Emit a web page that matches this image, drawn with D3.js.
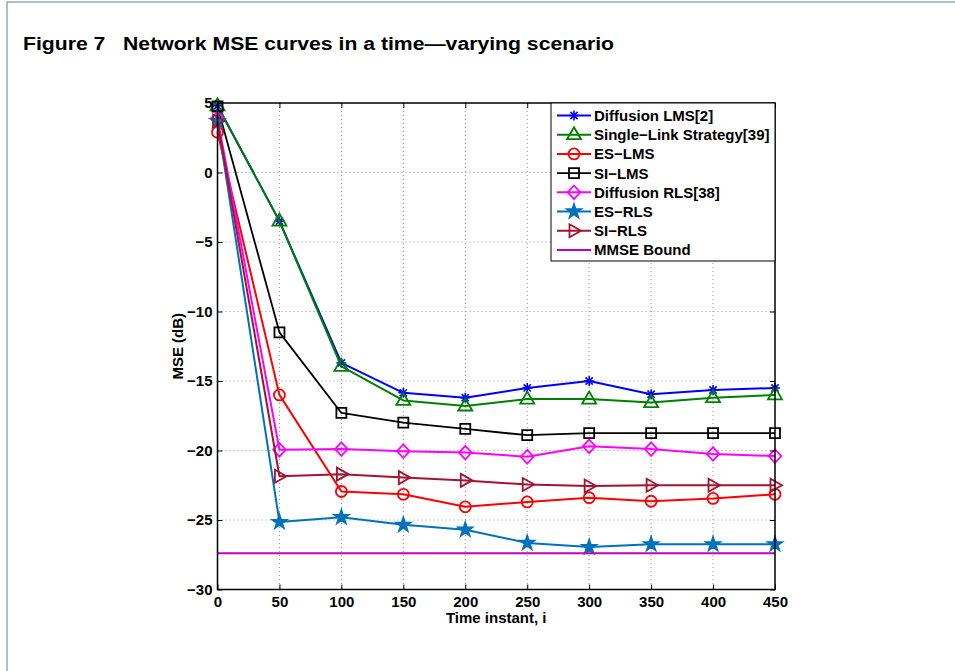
<!DOCTYPE html>
<html>
<head>
<meta charset="utf-8">
<script src="https://cdn.jsdelivr.net/npm/d3@7"></script>
<style>
  html, body { margin: 0; padding: 0; background: #fff; }
  svg { display: block; }
  text { font-family: "Liberation Sans", Arial, Helvetica, sans-serif; font-weight: bold; white-space: pre; }
</style>
</head>
<body>
<svg id="chart" width="955" height="671"></svg>
<script>
// Time instants at which the network MSE was evaluated
const timeInstants = [0, 50, 100, 150, 200, 250, 300, 350, 400, 450];

// Network MSE (dB) for each algorithm
const diffusionLMS  = [4.8, -3.5, -13.7, -15.85, -16.2, -15.5, -15.0, -15.95, -15.65, -15.5];
const singleLink    = [4.8, -3.5, -13.95, -16.4, -16.8, -16.3, -16.3, -16.55, -16.2, -16.0];
const esLMS         = [2.9, -16.0, -22.95, -23.15, -24.05, -23.7, -23.4, -23.65, -23.45, -23.15];
const siLMS         = [4.75, -11.5, -17.3, -18.0, -18.45, -18.9, -18.75, -18.75, -18.75, -18.75];
const diffusionRLS  = [3.9, -19.95, -19.9, -20.05, -20.15, -20.45, -19.7, -19.9, -20.25, -20.4];
const esRLS         = [3.7, -25.15, -24.8, -25.35, -25.7, -26.65, -26.95, -26.75, -26.75, -26.75];
const siRLS         = [3.7, -21.85, -21.7, -21.95, -22.15, -22.45, -22.55, -22.5, -22.5, -22.5];
const mmseBound     = -27.4;

const seriesNames = ["Diffusion LMS[2]", "Single\u2212Link Strategy[39]", "ES\u2212LMS", "SI\u2212LMS",
                     "Diffusion RLS[38]", "ES\u2212RLS", "SI\u2212RLS", "MMSE Bound"];
const seriesValues = [diffusionLMS, singleLink, esLMS, siLMS, diffusionRLS, esRLS, siRLS,
                      timeInstants.map(() => mmseBound)];
const seriesColors = ["#0000ff", "#008000", "#ff0000", "#000000", "#ff00ff", "#0072bd", "#a2142f", "#bf00bf"];
const seriesMarkers = ["asterisk", "triangle", "circle", "square", "diamond", "star", "rtriangle", "none"];

const xTicks = [0, 50, 100, 150, 200, 250, 300, 350, 400, 450];
const yTicks = [-30, -25, -20, -15, -10, -5, 0, 5];

const titleText = "Figure 7   Network MSE curves in a time\u2014varying scenario";
const xLabel = "Time instant, i";
const yLabel = "MSE (dB)";

const svg = d3.select("#chart");
const FS = 15;

// Page frame edges
svg.append("path")
  .attr("d", "M7,671V2H955")
  .attr("fill", "none").attr("stroke", "#93a6c0").attr("stroke-width", 1.5);

svg.append("text")
  .attr("x", 23).attr("y", 50)
  .attr("font-size", 18)
  .attr("textLength", 591).attr("lengthAdjust", "spacingAndGlyphs")
  .text(titleText);

const plot = { left: 217.5, right: 775, top: 103, bottom: 589.5 };
const x = d3.scaleLinear().domain([0, 450]).range([plot.left, plot.right]);
const y = d3.scaleLinear().domain([-30, 5]).range([plot.bottom, plot.top]);

// Dotted grid
const grid = svg.append("g").attr("stroke", "#8a8a8a").attr("stroke-width", 0.9)
  .attr("stroke-dasharray", "1,3");
grid.selectAll("line.gx").data(xTicks.slice(1, -1)).join("line")
  .attr("x1", d => x(d)).attr("x2", d => x(d))
  .attr("y1", plot.top).attr("y2", plot.bottom);
grid.selectAll("line.gy").data(yTicks.slice(1, -1)).join("line")
  .attr("x1", plot.left).attr("x2", plot.right)
  .attr("y1", d => y(d)).attr("y2", d => y(d));

// Marker shapes
function markerPath(kind) {
  switch (kind) {
    case "asterisk": return "M-5,0H5M0,-5V5M-3.6,-3.6L3.6,3.6M-3.6,3.6L3.6,-3.6";
    case "triangle": return "M0,-7.5L7,4.5L-7,4.5Z";
    case "circle": return d3.symbol(d3.symbolCircle, 95)();
    case "square": return "M-5,-5H5V5H-5Z";
    case "diamond": return "M0,-6.8L6.3,0L0,6.8L-6.3,0Z";
    case "star": return d3.symbol(d3.symbolStar, 60)();
    case "rtriangle": return "M7,0L-4.5,-6.5L-4.5,6.5Z";
  }
  return null;
}

const line = d3.line().x((d, i) => x(timeInstants[i])).y(d => y(d));

const curves = svg.append("g");
seriesValues.forEach((vals, k) => {
  const g = curves.append("g");
  const col = seriesColors[k];
  g.append("path")
    .attr("d", line(vals))
    .attr("fill", "none").attr("stroke", col)
    .attr("stroke-width", k === 3 ? 1.8 : 2).attr("stroke-linejoin", "round");
  const mk = seriesMarkers[k];
  if (mk !== "none") {
    g.selectAll("path.m").data(vals).join("path")
      .attr("transform", (d, i) => `translate(${x(timeInstants[i])},${y(d)})`)
      .attr("d", markerPath(mk))
      .attr("fill", mk === "star" ? col : "none")
      .attr("stroke", col).attr("stroke-width", mk === "asterisk" ? 1.6 : 1.8)
      .attr("stroke-linejoin", "miter");
  }
});

// Axes with inward ticks on all four sides
const fmt = d3.format("d");
function styleAxis(g) {
  g.selectAll("text").attr("font-size", FS).attr("fill", "#000")
    .attr("font-family", "'Liberation Sans', Arial, sans-serif").attr("font-weight", "bold");
  g.selectAll("line").attr("stroke", "#000").attr("stroke-width", 1);
  g.select(".domain").remove();
}
svg.append("g").attr("transform", `translate(0,${plot.bottom})`)
  .call(d3.axisBottom(x).tickValues(xTicks).tickFormat(fmt).tickSizeInner(-5).tickSizeOuter(0).tickPadding(7))
  .call(styleAxis);
svg.append("g").attr("transform", `translate(0,${plot.top})`)
  .call(d3.axisTop(x).tickValues(xTicks).tickFormat("").tickSizeInner(-5).tickSizeOuter(0))
  .call(styleAxis);
svg.append("g").attr("transform", `translate(${plot.left},0)`)
  .call(d3.axisLeft(y).tickValues(yTicks).tickFormat(fmt).tickSizeInner(-5).tickSizeOuter(0).tickPadding(5))
  .call(styleAxis);
svg.append("g").attr("transform", `translate(${plot.right},0)`)
  .call(d3.axisRight(y).tickValues(yTicks).tickFormat("").tickSizeInner(-5).tickSizeOuter(0))
  .call(styleAxis);

svg.append("rect")
  .attr("x", plot.left).attr("y", plot.top)
  .attr("width", plot.right - plot.left).attr("height", plot.bottom - plot.top)
  .attr("fill", "none").attr("stroke", "#000").attr("stroke-width", 1.5);

svg.append("text")
  .attr("x", (plot.left + plot.right) / 2).attr("y", 623)
  .attr("text-anchor", "middle").attr("font-size", FS)
  .text(xLabel);
svg.append("text")
  .attr("transform", `translate(183,${(plot.top + plot.bottom) / 2}) rotate(-90)`)
  .attr("text-anchor", "middle").attr("font-size", FS)
  .text(yLabel);

// Legend
const leg = { x: 551, y: 103, w: 224, h: 158, row0: 115.5, step: 19.2 };
const lg = svg.append("g");
lg.append("rect").attr("x", leg.x).attr("y", leg.y).attr("width", leg.w).attr("height", leg.h)
  .attr("fill", "#fff").attr("stroke", "#000").attr("stroke-width", 1);
seriesNames.forEach((name, k) => {
  const cy = leg.row0 + k * leg.step;
  const col = seriesColors[k];
  lg.append("line").attr("x1", 557).attr("x2", 591).attr("y1", cy).attr("y2", cy)
    .attr("stroke", col).attr("stroke-width", k === 3 ? 1.8 : 2);
  const mk = seriesMarkers[k];
  if (mk !== "none") {
    lg.append("path").attr("transform", `translate(574,${cy})`)
      .attr("d", markerPath(mk))
      .attr("fill", mk === "star" ? col : "none")
      .attr("stroke", col).attr("stroke-width", mk === "asterisk" ? 1.6 : 1.8);
  }
  lg.append("text").attr("x", 594).attr("y", cy).attr("dy", "0.36em")
    .attr("font-size", FS).text(name);
});
</script>
</body>
</html>
